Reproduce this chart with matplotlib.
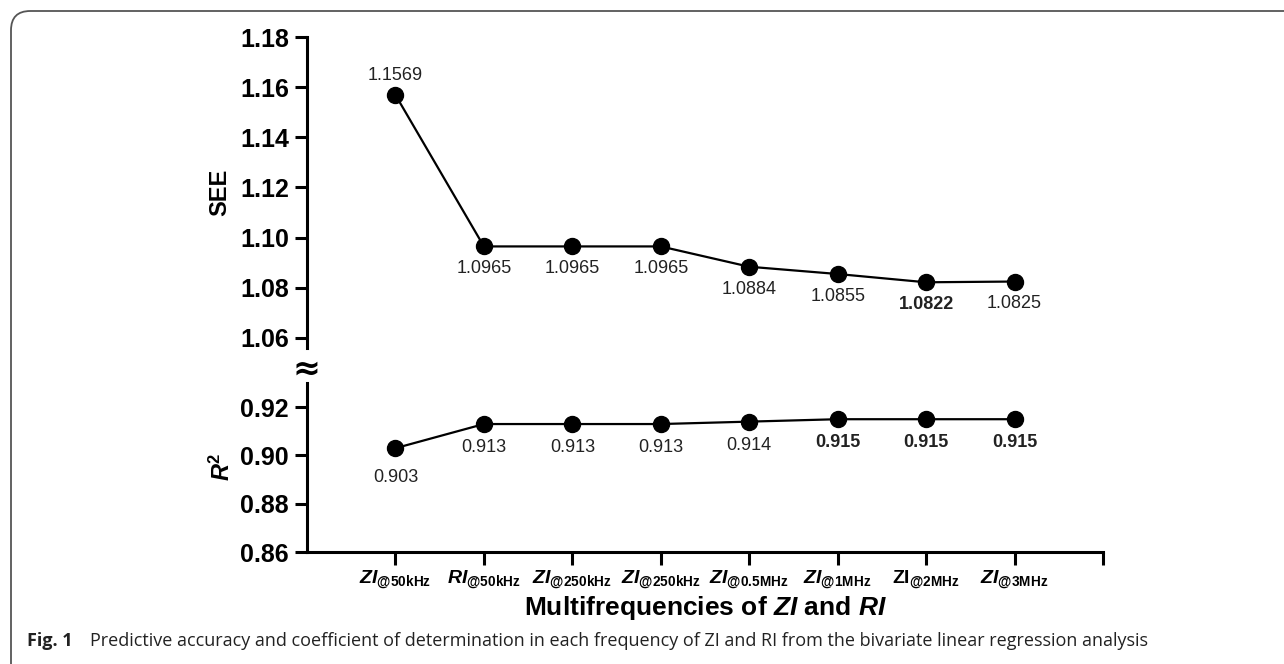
import numpy as np
import matplotlib
matplotlib.use("Agg")
import matplotlib.pyplot as plt
from matplotlib.patches import FancyBboxPatch

# --- data ---
freq_labels = [r"$\mathbfit{ZI}_{\mathbf{@50kHz}}$",
               r"$\mathbfit{RI}_{\mathbf{@50kHz}}$",
               r"$\mathbfit{ZI}_{\mathbf{@250kHz}}$",
               r"$\mathbfit{ZI}_{\mathbf{@250kHz}}$",
               r"$\mathbfit{ZI}_{\mathbf{@0.5MHz}}$",
               r"$\mathbfit{ZI}_{\mathbf{@1MHz}}$",
               r"$\mathbf{ZI}_{\mathbf{@2MHz}}$",
               r"$\mathbfit{ZI}_{\mathbf{@3MHz}}$"]
see_vals = [1.1569, 1.0965, 1.0965, 1.0965, 1.0884, 1.0855, 1.0822, 1.0825]
see_text = ["1.1569", "1.0965", "1.0965", "1.0965", "1.0884", "1.0855", "1.0822", "1.0825"]
see_bold = [False, False, False, False, False, False, True, False]
r2_vals = [0.903, 0.913, 0.913, 0.913, 0.914, 0.915, 0.915, 0.915]
r2_text = ["0.903", "0.913", "0.913", "0.913", "0.914", "0.915", "0.915", "0.915"]
r2_bold = [False, False, False, False, False, True, True, True]

x = np.arange(1, len(see_vals) + 1)

plt.rcParams['font.family'] = ["Liberation Sans", "DejaVu Sans"]
plt.rcParams['mathtext.fontset'] = 'custom'
plt.rcParams['mathtext.rm'] = 'Liberation Sans'
plt.rcParams['mathtext.bf'] = 'Liberation Sans:bold'
plt.rcParams['mathtext.it'] = 'Liberation Sans:italic'
plt.rcParams['mathtext.bfit'] = 'Liberation Sans:bold:italic'

W, H = 1284, 664
fig = plt.figure(figsize=(W / 100, H / 100), dpi=100)

# rounded frame around figure + caption
frame = FancyBboxPatch((11 / W, -20 / H), 1.2, (H - 11 + 20) / H,
                       boxstyle="round,pad=0,rounding_size=0.015",
                       transform=fig.transFigure, fill=False,
                       edgecolor="#555555", linewidth=1.3, mutation_aspect=W / H)
fig.patches.append(frame)

left, right = 307 / W, 1103 / W
ax1 = fig.add_axes([left, 1 - 348 / H, right - left, (348 - 37) / H])
ax2 = fig.add_axes([left, 1 - 552 / H, right - left, (552 - 383) / H])

lw = 2.2
for ax in (ax1, ax2):
    for s in ("top", "right"):
        ax.spines[s].set_visible(False)
    ax.spines["left"].set_linewidth(lw)
    ax.spines["bottom"].set_linewidth(lw)
    ax.set_xlim(0, 9)
    ax.tick_params(axis="y", direction="out", length=9, width=lw, pad=4)

# top panel: SEE
ax1.spines["bottom"].set_visible(False)
ax1.plot(x, see_vals, color="black", lw=1.6, marker="o", ms=11.5, zorder=3)
ax1.set_ylim(1.056, 1.18)
ax1.set_yticks([1.06, 1.08, 1.10, 1.12, 1.14, 1.16, 1.18])
ax1.set_yticklabels(["1.06", "1.08", "1.10", "1.12", "1.14", "1.16", "1.18"],
                    fontweight="bold", fontsize=18)
ax1.set_xticks([])
for xi, v, s, b in zip(x, see_vals, see_text, see_bold):
    off = 8 if xi == 1 else -10
    ax1.annotate(s, (xi, v), xytext=(0, off), textcoords="offset points",
                 ha="center", va="bottom" if off > 0 else "top",
                 fontsize=13, fontweight="bold" if b else "normal", color="#222222")
ax1.set_ylabel("SEE", fontsize=17, fontweight="bold", labelpad=6)

# bottom panel: R2
ax2.plot(x, r2_vals, color="black", lw=1.6, marker="o", ms=11.5, zorder=3)
ax2.set_ylim(0.86, 0.93)
ax2.set_yticks([0.86, 0.88, 0.90, 0.92])
ax2.set_yticklabels(["0.86", "0.88", "0.90", "0.92"], fontweight="bold", fontsize=18)
ax2.set_xticks(list(x) + [9])
ax2.set_xticklabels(freq_labels + [""], fontsize=14)
ax2.tick_params(axis="x", direction="out", length=9, width=lw, pad=3)
for xi, v, s, b in zip(x, r2_vals, r2_text, r2_bold):
    off = -15 if xi == 1 else -11
    ax2.annotate(s, (xi, v), xytext=(0, off), textcoords="offset points",
                 ha="center", va="top",
                 fontsize=13, fontweight="bold" if b else "normal", color="#222222")
ax2.set_ylabel(r"$\mathbfit{R}^\mathbf{2}$", fontsize=17, labelpad=4)
ax2.set_xlabel(r"Multifrequencies of $\mathbfit{ZI}$ and $\mathbfit{RI}$",
               fontsize=19, fontweight="bold", labelpad=2)

# axis break symbol
fig.text(left, 1 - 369 / H, "\u2248", ha="center", va="center", fontsize=24,
         fontweight="bold", family=["DejaVu Sans"])

# caption
fig.text(27 / W, 1 - 641 / H, "Fig. 1", fontsize=13, fontweight="bold",
         family=["Open Sans", "DejaVu Sans"], va="center", color="#222222")
fig.text(90 / W, 1 - 641 / H,
         "Predictive accuracy and coefficient of determination in each frequency of ZI and RI "
         "from the bivariate linear regression analysis",
         fontsize=13, family=["Open Sans", "DejaVu Sans"], va="center", color="#222222")

fig.savefig("out.png", dpi=100)
